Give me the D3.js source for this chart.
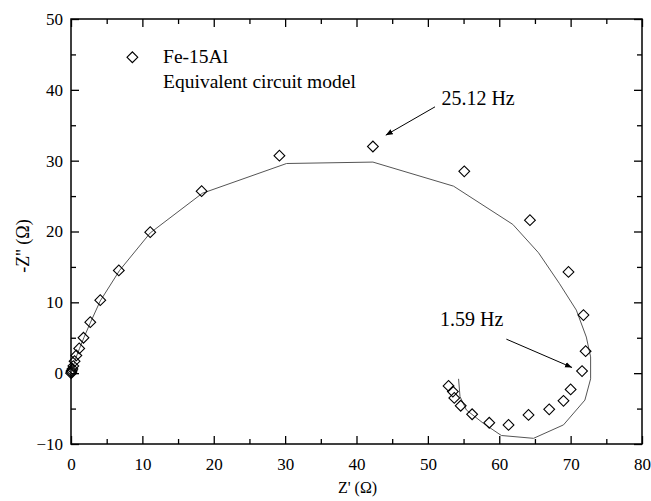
<!DOCTYPE html>
<html>
<head>
<meta charset="utf-8">
<script src="https://cdn.jsdelivr.net/npm/d3@7"></script>
<style>
  body { margin: 0; background: #fff; }
  text { font-family: "Liberation Serif", "Times New Roman", serif; fill: #000; }
</style>
</head>
<body>
<svg></svg>
<script>
var width = 651, height = 501,
    margin = {top: 19, right: 9, bottom: 57, left: 71};

// measured impedance, Fe-15Al
var zReal = [0.02, 0.05, 0.1, 0.2, 0.33, 0.5, 0.75, 1.15, 1.75, 2.7, 4.1, 6.7, 11.1, 18.3, 29.2, 42.3, 55.1, 64.3, 69.7, 71.8, 72.1, 71.6, 70.0, 69.0, 67.0, 64.1, 61.3, 58.6, 56.2, 54.6, 53.7, 53.5, 52.9];
var zImag = [0.0, 0.15, 0.35, 0.6, 1.0, 1.7, 2.5, 3.5, 5.0, 7.2, 10.3, 14.5, 19.9, 25.7, 30.7, 32.0, 28.5, 21.6, 14.3, 8.2, 3.1, 0.3, -2.3, -3.9, -5.1, -5.9, -7.3, -7.0, -5.8, -4.6, -3.5, -2.6, -1.8];

// equivalent circuit model
var fitReal = [0, 0.3, 0.7, 1.2, 1.8, 2.7, 4.1, 6.8, 11.1, 18.4, 30.2, 42.3, 53.6, 61.9, 65.5, 68.4, 70.8, 72.2, 72.8, 72.8, 72.0, 69.0, 64.8, 60.3, 57.8, 55.4, 54.5, 54.3];
var fitImag = [0, 0.9, 2.2, 3.5, 5.0, 7.1, 10.2, 14.5, 19.8, 25.4, 29.6, 29.8, 26.4, 21.0, 17.0, 12.7, 8.9, 5.1, 2.3, -0.8, -3.8, -7.3, -9.2, -8.8, -7.1, -5.2, -3.3, -0.8];

var xTicks = [0, 10, 20, 30, 40, 50, 60, 70, 80];
var yTicks = [-10, 0, 10, 20, 30, 40, 50];

var svg = d3.select("svg")
  .attr("width", width)
  .attr("height", height);

var x = d3.scaleLinear().domain([0, 80]).range([margin.left, width - margin.right]);
var y = d3.scaleLinear().domain([-10, 50]).range([height - margin.bottom, margin.top]);

var minorX = d3.range(5, 80, 10), minorY = d3.range(-5, 50, 10);

// axes, ticks inside
svg.append("g")
  .attr("transform", "translate(0," + y(-10) + ")")
  .call(d3.axisBottom(x).tickValues(xTicks).tickSize(-8).tickPadding(14).tickFormat(d3.format("d")));
svg.append("g")
  .attr("transform", "translate(0," + y(-10) + ")")
  .call(d3.axisBottom(x).tickValues(minorX).tickSize(-5).tickFormat(""));
svg.append("g")
  .attr("transform", "translate(" + x(0) + ",0)")
  .call(d3.axisLeft(y).tickValues(yTicks).tickSize(-8).tickPadding(8).tickFormat(d3.format("d")));
svg.append("g")
  .attr("transform", "translate(" + x(0) + ",0)")
  .call(d3.axisLeft(y).tickValues(minorY).tickSize(-5).tickFormat(""));
svg.append("g")
  .attr("transform", "translate(0," + y(50) + ")")
  .call(d3.axisTop(x).tickValues(xTicks).tickSize(-8).tickFormat(""));
svg.append("g")
  .attr("transform", "translate(0," + y(50) + ")")
  .call(d3.axisTop(x).tickValues(minorX).tickSize(-5).tickFormat(""));
svg.append("g")
  .attr("transform", "translate(" + x(80) + ",0)")
  .call(d3.axisRight(y).tickValues(yTicks).tickSize(-8).tickFormat(""));
svg.append("g")
  .attr("transform", "translate(" + x(80) + ",0)")
  .call(d3.axisRight(y).tickValues(minorY).tickSize(-5).tickFormat(""));

svg.selectAll(".domain").remove();
svg.selectAll(".tick line").attr("stroke", "#000").attr("stroke-width", 1.3);
svg.selectAll(".tick text")
  .style("font-family", "'Liberation Serif', serif")
  .style("font-size", "17px")
  .attr("fill", "#000");

svg.append("rect")
  .attr("x", x(0)).attr("y", y(50))
  .attr("width", x(80) - x(0)).attr("height", y(-10) - y(50))
  .attr("fill", "none").attr("stroke", "#000").attr("stroke-width", 1.5);

// axis titles
svg.append("text")
  .attr("x", (x(0) + x(80)) / 2 + 1).attr("y", 493)
  .attr("text-anchor", "middle")
  .style("font-size", "16px")
  .text("Z' (\u03a9)");
svg.append("text")
  .attr("transform", "translate(29," + 246 + ") rotate(-90)")
  .attr("text-anchor", "middle")
  .style("font-size", "18px")
  .text("-Z'' (\u03a9)");

// fit line
var fit = fitReal.map(function(d, i) { return [d, fitImag[i]]; });
var line = d3.line()
  .x(function(d) { return x(d[0]); })
  .y(function(d) { return y(d[1]); });
svg.append("path")
  .datum(fit)
  .attr("d", line)
  .attr("fill", "none")
  .attr("stroke", "#555")
  .attr("stroke-width", 1);

// measured points as diamonds
var diamond = d3.symbol().type(d3.symbolSquare).size(58);
var pts = zReal.map(function(d, i) { return [d, zImag[i]]; });
svg.append("g")
  .selectAll("path")
  .data(pts)
  .enter().append("path")
  .attr("d", diamond)
  .attr("transform", function(d) { return "translate(" + x(d[0]) + "," + y(d[1]) + ") rotate(45)"; })
  .attr("fill", "none")
  .attr("stroke", "#000")
  .attr("stroke-width", 1.1);

// legend
svg.append("path")
  .attr("d", diamond)
  .attr("transform", "translate(" + x(8.6) + "," + y(44.6) + ") rotate(45)")
  .attr("fill", "none").attr("stroke", "#000").attr("stroke-width", 1.1);
svg.append("text")
  .attr("x", x(12.9)).attr("y", y(43.8))
  .style("font-size", "19.5px")
  .text("Fe-15Al");
svg.append("text")
  .attr("x", x(12.9)).attr("y", y(40.3))
  .style("font-size", "19.5px")
  .text("Equivalent circuit model");

// frequency annotations
svg.append("defs").append("marker")
  .attr("id", "arr")
  .attr("viewBox", "0 0 10 10")
  .attr("refX", 10).attr("refY", 5)
  .attr("markerWidth", 7).attr("markerHeight", 7)
  .attr("markerUnits", "userSpaceOnUse")
  .attr("orient", "auto")
  .append("path")
  .attr("d", "M0,1 L10,5 L0,9 Z")
  .attr("fill", "#000");

var notes = [
  {label: "25.12 Hz", tx: 51.9, ty: 37.8, x1: 51.0, y1: 37.6, x2: 44.1, y2: 33.6},
  {label: "1.59 Hz", tx: 51.7, ty: 6.6, x1: 61.0, y1: 4.8, x2: 70.2, y2: 0.8}
];
notes.forEach(function(n) {
  svg.append("text")
    .attr("x", x(n.tx)).attr("y", y(n.ty))
    .style("font-size", "20px")
    .text(n.label);
  svg.append("line")
    .attr("x1", x(n.x1)).attr("y1", y(n.y1))
    .attr("x2", x(n.x2)).attr("y2", y(n.y2))
    .attr("stroke", "#000").attr("stroke-width", 1)
    .attr("marker-end", "url(#arr)");
});
</script>
</body>
</html>
